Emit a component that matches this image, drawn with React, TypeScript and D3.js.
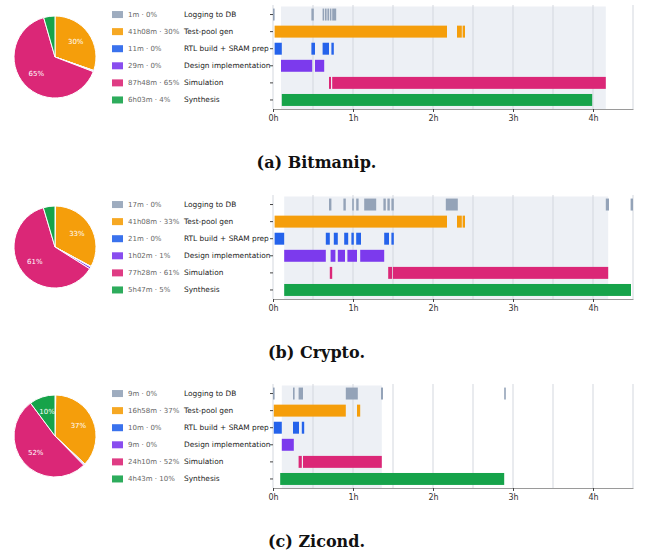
import React, { useRef, useEffect } from 'react';
import * as d3 from 'd3';

// Stage categories, listed top to bottom
const CATEGORIES = [
  'Logging to DB',
  'Test-pool gen',
  'RTL build + SRAM prep',
  'Design implementation',
  'Simulation',
  'Synthesis',
];

const COLORS = [
  '#94a3b8', // slate — Logging
  '#f59e0b', // amber — Test-pool gen
  '#2563eb', // blue — RTL build
  '#7c3aed', // violet — Design impl
  '#db2777', // pink — Simulation
  '#16a34a', // green — Synthesis
];

// Total minutes per stage (pie + legend)
const BITMANIP_MINUTES = [1, 2468, 11, 29, 5268, 363];
const CRYPTO_MINUTES = [17, 2468, 21, 62, 4648, 347];
const ZICOND_MINUTES = [9, 1018, 10, 9, 1450, 283];

// Timeline spans: [stage index, start hour, end hour]
type Span = [number, number, number];

const BITMANIP_SPANS: Span[] = [
  [0, 0, 0.02], [0, 0.48, 0.51], [0, 0.62, 0.64], [0, 0.65, 0.67], [0, 0.68, 0.7], [0, 0.71, 0.73], [0, 0.74, 0.79],
  [1, 0.02, 2.175], [1, 2.3, 2.36], [1, 2.37, 2.4],
  [2, 0.02, 0.11], [2, 0.48, 0.525], [2, 0.62, 0.7], [2, 0.73, 0.76],
  [3, 0.1, 0.49], [3, 0.525, 0.64],
  [4, 0.7, 0.725], [4, 0.74, 4.16],
  [5, 0.11, 3.99],
];

const CRYPTO_SPANS: Span[] = [
  [0, 0.7, 0.73], [0, 0.88, 0.91], [0, 0.99, 1.01], [0, 1.04, 1.07], [0, 1.14, 1.29], [0, 1.38, 1.41],
  [0, 1.43, 1.46], [0, 1.48, 1.51], [0, 2.16, 2.31], [0, 4.16, 4.2], [0, 4.47, 4.5],
  [1, 0.02, 2.175], [1, 2.3, 2.36], [1, 2.37, 2.4],
  [2, 0.02, 0.14], [2, 0.66, 0.71], [2, 0.76, 0.81], [2, 0.89, 0.94], [2, 0.98, 1.01], [2, 1.04, 1.1],
  [2, 1.39, 1.45], [2, 1.48, 1.51],
  [3, 0.14, 0.66], [3, 0.72, 0.78], [3, 0.81, 0.9], [3, 0.93, 1.05], [3, 1.09, 1.39],
  [4, 0.71, 0.74], [4, 1.44, 1.49], [4, 1.5, 4.19],
  [5, 0.14, 4.475],
];

const ZICOND_SPANS: Span[] = [
  [0, 0, 0.02], [0, 0.25, 0.27], [0, 0.32, 0.375], [0, 0.91, 1.06], [0, 1.35, 1.375], [0, 2.89, 2.91],
  [1, 0.01, 0.91], [1, 1.05, 1.09],
  [2, 0.01, 0.11], [2, 0.25, 0.325], [2, 0.36, 0.39],
  [3, 0.11, 0.26],
  [4, 0.32, 0.36], [4, 0.375, 1.36],
  [5, 0.09, 2.89],
];

// Shaded run window [start hour, end hour]
const BITMANIP_WINDOW = [0.1, 4.16];
const CRYPTO_WINDOW = [0.14, 4.19];
const ZICOND_WINDOW = [0.11, 1.36];

const HOUR_TICKS = [0, 1, 2, 3, 4];
const GRID_HOURS = [0, 0.5, 1, 1.5, 2, 2.5, 3, 3.5, 4, 4.5];
const X_MAX = 4.5;

const SANS = '"DejaVu Sans", sans-serif';

function fmtDuration(m: number): string {
  const h = Math.floor(m / 60);
  const mm = m % 60;
  return h > 0 ? `${h}h${String(mm).padStart(2, '0')}m` : `${mm}m`;
}

interface PanelProps {
  minutes: number[];
  spans: Span[];
  window: number[];
  caption: string;
  offsetY: number;
}

const Panel: React.FC<PanelProps> = ({ minutes, spans, window: win, caption, offsetY }) => {
  const xAxisRef = useRef<SVGGElement>(null);
  const yAxisRef = useRef<SVGGElement>(null);

  const x = d3.scaleLinear().domain([0, X_MAX]).range([273, 633]);
  const y = d3
    .scaleBand<number>()
    .domain(d3.range(CATEGORIES.length))
    .range([6, 108.5])
    .paddingInner(0.3)
    .paddingOuter(0.15);
  const axisY = 109;

  const total = d3.sum(minutes);
  const pie = d3.pie<number>().sort(null).value((d) => d)(minutes);
  const r = 41;
  const arc = d3.arc<d3.PieArcDatum<number>>().innerRadius(0).outerRadius(r);
  const labelArc = d3.arc<d3.PieArcDatum<number>>().innerRadius(r * 0.62).outerRadius(r * 0.62);

  useEffect(() => {
    if (xAxisRef.current) {
      const g = d3.select(xAxisRef.current);
      g.selectAll('*').remove();
      g.call(
        d3
          .axisBottom(x)
          .tickValues(HOUR_TICKS)
          .tickSize(3)
          .tickSizeOuter(0)
          .tickFormat((d) => `${d}h`)
      );
      g.select('.domain').attr('stroke', '#9a9a9a');
      g.selectAll('.tick line').attr('stroke', '#444');
      g.selectAll('text')
        .style('font-size', '8px')
        .style('fill', '#333')
        .style('font-family', SANS);
    }
    if (yAxisRef.current) {
      const g = d3.select(yAxisRef.current);
      g.selectAll('*').remove();
      g.call(d3.axisLeft(y).tickSize(3).tickFormat(() => ''));
      g.select('.domain').remove();
      g.selectAll('.tick line').attr('stroke', '#444');
    }
  });

  return (
    <g transform={`translate(0,${offsetY})`}>
      {/* Pie */}
      <g transform="translate(55,57)">
        {pie.map((d, i) => (
          <path key={i} d={arc(d) ?? ''} fill={COLORS[i]} stroke="#fff" strokeWidth={1} />
        ))}
        {pie.map((d, i) => {
          const pct = (d.value / total) * 100;
          if (pct < 8) return null;
          const [lx, ly] = labelArc.centroid(d);
          return (
            <text
              key={i}
              x={lx}
              y={ly}
              textAnchor="middle"
              dominantBaseline="central"
              fill="#fff"
              fontSize={7}
              fontFamily={SANS}
            >
              {`${Math.round(pct)}%`}
            </text>
          );
        })}
      </g>

      {/* Legend */}
      {CATEGORIES.map((c, i) => {
        const cy = (y(i) ?? 0) + y.bandwidth() / 2;
        return (
          <g key={c}>
            <rect x={112} y={cy - 3.5} width={11} height={7} fill={COLORS[i]} opacity={0.9} />
            <text x={128} y={cy} dominantBaseline="central" fontSize={7} fill="#666" fontFamily={SANS}>
              {`${fmtDuration(minutes[i])} · ${Math.round((minutes[i] / total) * 100)}%`}
            </text>
            <text x={184} y={cy} dominantBaseline="central" fontSize={7.4} fill="#1a1a1a" fontFamily={SANS}>
              {c}
            </text>
          </g>
        );
      })}

      {/* Run window */}
      <rect
        x={x(win[0])}
        y={6.5}
        width={x(win[1]) - x(win[0])}
        height={axisY - 6.5}
        fill="#edf0f5"
      />
      {GRID_HOURS.map((h) => (
        <line key={h} x1={x(h)} x2={x(h)} y1={5} y2={axisY} stroke="#d3d7de" strokeWidth={1} />
      ))}

      {/* Bars */}
      {spans.map(([k, s, e], i) => (
        <rect
          key={i}
          x={x(s)}
          y={y(k)}
          width={Math.max(0.8, x(e) - x(s))}
          height={y.bandwidth()}
          fill={COLORS[k]}
        />
      ))}

      <g ref={xAxisRef} transform={`translate(0,${axisY})`} />
      <g ref={yAxisRef} transform="translate(273,0)" />

      <text
        x={316.5}
        y={167.5}
        textAnchor="middle"
        fontSize={16}
        fontWeight="bold"
        fontFamily='"DejaVu Serif", serif'
        fill="#111"
      >
        {caption}
      </text>
    </g>
  );
};

export default function App() {
  return (
    <svg
      width={654}
      height={557}
      style={{ position: 'absolute', left: 0, top: 0, background: '#fff' }}
    >
      <Panel minutes={BITMANIP_MINUTES} spans={BITMANIP_SPANS} window={BITMANIP_WINDOW} caption="(a) Bitmanip." offsetY={0} />
      <Panel minutes={CRYPTO_MINUTES} spans={CRYPTO_SPANS} window={CRYPTO_WINDOW} caption="(b) Crypto." offsetY={190} />
      <Panel minutes={ZICOND_MINUTES} spans={ZICOND_SPANS} window={ZICOND_WINDOW} caption="(c) Zicond." offsetY={379} />
    </svg>
  );
}
